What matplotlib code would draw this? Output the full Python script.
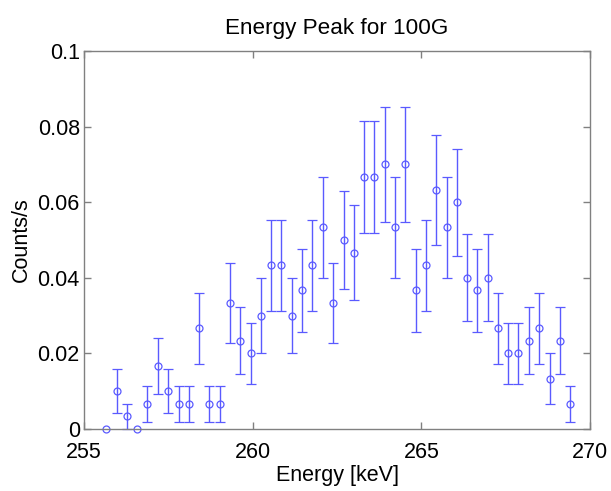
import numpy as np
import matplotlib
matplotlib.use("Agg")
import matplotlib.pyplot as plt

plt.rcParams['font.family'] = ['Liberation Sans', 'DejaVu Sans']

# bin centres, keV
energy = [255.65, 255.97, 256.28, 256.57, 256.88, 257.19, 257.49, 257.81,
          258.10, 258.41, 258.72, 259.02, 259.33, 259.63, 259.94, 260.24,
          260.55, 260.85, 261.16, 261.46, 261.77, 262.08, 262.39, 262.70,
          263.00, 263.31, 263.61, 263.92, 264.21, 264.52, 264.83, 265.13,
          265.44, 265.75, 266.06, 266.36, 266.66, 266.97, 267.28, 267.58,
          267.88, 268.19, 268.50, 268.81, 269.11, 269.42]
# raw counts per bin
counts = [0, 3, 1, 0, 2, 5, 3, 2, 2, 8, 2, 2, 10, 7, 6, 9,
          13, 13, 9, 11, 13, 16, 10, 15, 14, 20, 20, 21, 16, 21, 11, 13,
          19, 16, 18, 12, 11, 12, 8, 6, 6, 7, 8, 4, 7, 2]
live_time = 300.0  # s

xticks = [255, 260, 265, 270]
yticks = [0, 0.02, 0.04, 0.06, 0.08, 0.1]
ytick_labels = ['0', '0.02', '0.04', '0.06', '0.08', '0.1']

energy = np.array(energy)
counts = np.array(counts, dtype=float)
rate = counts / live_time
err = np.sqrt(counts) / live_time

blue = '#5a5aff'
grey = '#808080'
fs = 15.5

fig = plt.figure(figsize=(6.11, 4.91), dpi=100)
ax = fig.add_axes([84 / 611, 1 - 429 / 491, 506 / 611, 378 / 491])

nz = counts > 0
ax.errorbar(energy[nz], rate[nz], yerr=err[nz], fmt='o', color=blue,
            mfc='none', mec=blue, ms=5, mew=0.9, elinewidth=1.0,
            capsize=3.7, capthick=1.0, clip_on=False)
ax.plot(energy[~nz], rate[~nz], 'o', color=blue, mfc='none', ms=5,
        mew=0.9, clip_on=False)

ax.set_xlim(255, 270)
ax.set_ylim(0, 0.1)
ax.set_xticks(xticks)
ax.set_xticklabels([str(t) for t in xticks])
ax.set_yticks(yticks)
ax.set_yticklabels(ytick_labels)

for s in ax.spines.values():
    s.set_color(grey)
    s.set_linewidth(1.0)
ax.tick_params(direction='in', length=5, width=1.0, color=grey,
               top=True, right=True, labelsize=fs, labelcolor='black')
ax.tick_params(axis='x', pad=9)
ax.tick_params(axis='y', pad=3)

ax.set_title('Energy Peak for 100G', fontsize=16.2, pad=12)
ax.set_xlabel('Energy [keV]', fontsize=fs, labelpad=2)
ax.set_ylabel('Counts/s', fontsize=fs, labelpad=4)

fig.savefig('out.png', dpi=100)
